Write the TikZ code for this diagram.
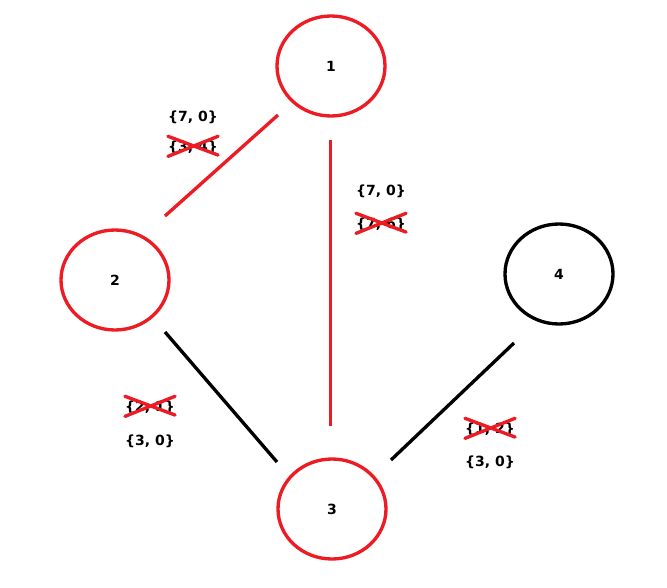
\documentclass[tikz,border=0pt]{standalone}
\usepackage{fontspec}
\setmainfont{DejaVu Sans}
\usetikzlibrary{shapes.geometric}
\definecolor{pred}{HTML}{ED1C24}
\begin{document}
\begin{tikzpicture}[x=0.75pt,y=-0.75pt,
  vert/.style={draw=#1,line width=2.5pt,ellipse,minimum width=81pt,minimum height=75pt,inner sep=0pt,font=\fontsize{10.5pt}{12pt}\selectfont\bfseries},
  edge/.style={draw=#1,line width=2.5pt},
  lab/.style={inner sep=1pt,font=\fontsize{10.5pt}{12pt}\selectfont\bfseries},
  xout/.style={draw=pred,line width=2.5pt,line cap=round}]
\useasboundingbox (0,0) rectangle (667,588);
\fill[white] (0,0) rectangle (667,588);
\node[vert=pred] (n1) at (331,66) {1};
\node[vert=pred] (n2) at (115,280) {2};
\node[vert=pred] (n3) at (332,509) {3};
\node[vert=black] (n4) at (559,274) {4};
\coordinate (a1) at (278,115); \coordinate (a2) at (165,216);
\coordinate (b1) at (330.5,140); \coordinate (b2) at (330.5,426);
\coordinate (c1) at (165,332); \coordinate (c2) at (277,462);
\coordinate (d1) at (391,460); \coordinate (d2) at (514,343);
\draw[edge=pred] (a1) -- (a2);
\draw[edge=pred] (b1) -- (b2);
\draw[edge=black] (c1) -- (c2);
\draw[edge=black] (d1) -- (d2);
\node[lab] (l12) at (193,117) {\{7, 0\}};
\node[lab] (x12) at (193,147) {\{3, 4\}};
\node[lab] (l13) at (381,191) {\{7, 0\}};
\node[lab] (x13) at (381,224) {\{7, 6\}};
\node[lab] (x23) at (150,407) {\{2, 1\}};
\node[lab] (l23) at (150,441) {\{3, 0\}};
\node[lab] (x34) at (490,429) {\{1, 2\}};
\node[lab] (l34) at (490,462) {\{3, 0\}};
\foreach \n in {x12,x13,x23,x34}{
  \draw[xout] ([xshift=1pt,yshift=2pt]\n.north west) -- ([xshift=-1pt]\n.south east);
  \draw[xout] ([xshift=1pt,yshift=-1pt]\n.south west) -- ([xshift=-1pt,yshift=2pt]\n.north east);
}
\end{tikzpicture}
\end{document}
